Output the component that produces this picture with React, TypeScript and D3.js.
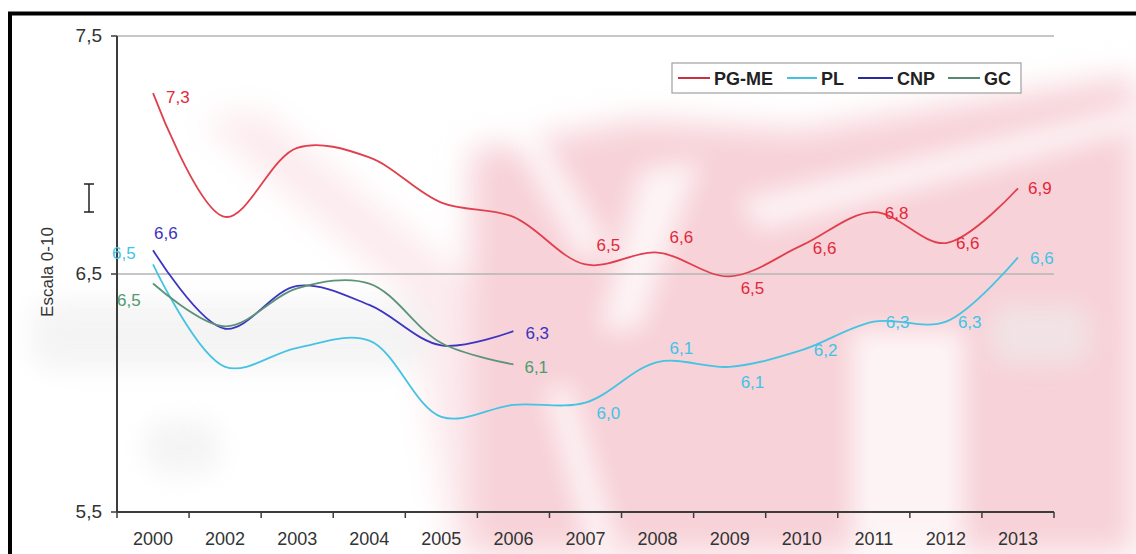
import React from "react";
import * as d3 from "d3";

const categories = ["2000", "2002", "2003", "2004", "2005", "2006", "2007", "2008", "2009", "2010", "2011", "2012", "2013"];
const pgme = [7.26, 6.74, 7.03, 6.99, 6.8, 6.74, 6.54, 6.59, 6.49, 6.62, 6.76, 6.63, 6.86];
const pl = [6.54, 6.11, 6.19, 6.22, 5.9, 5.95, 5.96, 6.13, 6.11, 6.18, 6.3, 6.3, 6.57];
const cnp = [6.6, 6.27, 6.45, 6.37, 6.2, 6.26, null, null, null, null, null, null, null];
const gc = [6.46, 6.28, 6.44, 6.46, 6.21, 6.12, null, null, null, null, null, null, null];
const yTicks = [5.5, 6.5, 7.5];
const gridValues = [6.5, 7.5];
const seriesNames = ["PG-ME", "PL", "CNP", "GC"];

// label placement: [index, dx, dy]
const labelPlacement: Record<string, [number, number, number][]> = {
  "PG-ME": [[0, 13, 10], [6, 11, -13], [7, 12, -10], [8, 11, 18], [9, 11, 9], [10, 11, 7], [11, 10, 6], [12, 10, 6]],
  PL: [[0, -41, -5], [6, 11, 16], [7, 12, -8], [8, 11, 21], [9, 12, 6], [10, 12, 6], [11, 12, 6], [12, 12, 7]],
  CNP: [[0, 1, -11], [5, 12, 8]],
  GC: [[0, -36, 22], [5, 11, 9]],
};

const styles: Record<string, { line: string; label: string; legend: string }> = {
  "PG-ME": { line: "#e0404e", label: "#e3283a", legend: "#c8323f" },
  PL: { line: "#45c3e3", label: "#3fc4e6", legend: "#46c0e2" },
  CNP: { line: "#3c34c2", label: "#3a33c0", legend: "#2a2a9c" },
  GC: { line: "#5c9478", label: "#4f9a6e", legend: "#558a70" },
};

const legendLayout: Record<string, number> = { "PG-ME": 678, PL: 787, CNP: 858, GC: 948 };
const legendLineLen: Record<string, number> = { "PG-ME": 32, PL: 30, CNP: 35, GC: 32 };

const FONT = "'Liberation Sans', Arial, sans-serif";

export default function App() {
  const left = 117, right = 1054, top = 36, bottom = 512;
  const x = d3.scaleBand().domain(categories).range([left, right]);
  const y = d3.scaleLinear().domain([5.5, 7.5]).range([bottom, top]);
  const cx = (c: string) => (x(c) as number) + x.bandwidth() / 2;

  const dataMap: Record<string, (number | null)[]> = { "PG-ME": pgme, PL: pl, CNP: cnp, GC: gc };

  const line = d3
    .line<[string, number | null]>()
    .defined((d) => d[1] != null)
    .x((d) => cx(d[0]))
    .y((d) => y(d[1] as number))
    .curve(d3.curveCatmullRom.alpha(0.5));

  const fmt = (v: number) => v.toFixed(1).replace(".", ",");

  const boundaries = [...categories.map((c) => x(c) as number), right];

  return (
    <svg width={1136} height={554} style={{ position: "absolute", left: 0, top: 0, background: "#fff" }}>
      <defs>
        <filter id="blurBig" x="-20%" y="-20%" width="140%" height="140%">
          <feGaussianBlur stdDeviation="16" />
        </filter>
        <filter id="blurSmall" x="-20%" y="-20%" width="140%" height="140%">
          <feGaussianBlur stdDeviation="12" />
        </filter>
      </defs>
      {/* watermark */}
      <g filter="url(#blurBig)">
        <polygon points="470,150 640,120 800,130 1136,75 1136,554 470,554" fill="#f7d2d8" />
        <polygon points="200,120 260,110 470,280 470,554 450,554 410,300" fill="#fcebee" />
      </g>
      <g filter="url(#blurSmall)" fill="#ffffff" opacity={0.75}>
        <rect x={852} y={330} width={112} height={240} />
        <polygon points="740,200 1136,105 1136,130 760,230" />
        <polygon points="490,100 520,95 610,250 580,260" />
        <polygon points="640,170 700,160 640,330 600,330" />
        <polygon points="545,390 570,385 620,554 590,554" />
      </g>
      <g filter="url(#blurSmall)" fill="#eeeeee" opacity={0.6}>
        <rect x={30} y={300} width={400} height={70} rx={25} />
        <rect x={990} y={305} width={100} height={60} rx={20} />
        <rect x={145} y={420} width={75} height={55} rx={20} />
      </g>

      {/* frame */}
      <rect x={10} y={13.5} width={1200} height={600} fill="none" stroke="#000" strokeWidth={4} />

      {/* gridlines */}
      {gridValues.map((v) => (
        <line key={v} x1={left} x2={right} y1={y(v)} y2={y(v)} stroke="#b4b4b4" strokeWidth={1.5} />
      ))}

      {/* axes */}
      <line x1={left} x2={left} y1={top} y2={bottom} stroke="#3c3c3c" strokeWidth={2} />
      {yTicks.map((v) => (
        <g key={v}>
          <line x1={left - 6} x2={left} y1={y(v)} y2={y(v)} stroke="#3c3c3c" strokeWidth={1.5} />
          <text x={102} y={y(v) + 6} textAnchor="end" fontFamily={FONT} fontSize={19} fill="#333">
            {fmt(v)}
          </text>
        </g>
      ))}
      <line x1={left} x2={right} y1={bottom} y2={bottom} stroke="#3c3c3c" strokeWidth={2} />
      {boundaries.map((b, i) => (
        <line key={i} x1={b} x2={b} y1={bottom} y2={bottom + 6} stroke="#3c3c3c" strokeWidth={1.5} />
      ))}
      {categories.map((c) => (
        <text key={c} x={cx(c)} y={545} textAnchor="middle" fontFamily={FONT} fontSize={18} fill="#333">
          {c}
        </text>
      ))}
      <text
        transform="translate(53,272) rotate(-90)"
        textAnchor="middle"
        fontFamily={FONT}
        fontSize={17}
        fill="#333"
      >
        Escala 0-10
      </text>

      {/* text cursor glyph */}
      <path d="M84,184 H94 M89,184 V212 M84,212 H94" stroke="#222" strokeWidth={1.5} fill="none" />

      {/* series lines */}
      {seriesNames.map((s) => (
        <path
          key={s}
          d={line(categories.map((c, i) => [c, dataMap[s][i]] as [string, number | null])) || ""}
          fill="none"
          stroke={styles[s].line}
          strokeWidth={1.8}
        />
      ))}

      {/* data labels */}
      {seriesNames.map((s) =>
        labelPlacement[s].map(([i, dx, dy]) => {
          const v = dataMap[s][i] as number;
          return (
            <text
              key={s + i}
              x={cx(categories[i]) + dx}
              y={y(v) + dy}
              fontFamily={FONT}
              fontSize={17}
              fill={styles[s].label}
            >
              {fmt(v)}
            </text>
          );
        })
      )}

      {/* legend */}
      <rect x={672} y={63} width={349} height={30} fill="#fff" stroke="#a0a0a0" strokeWidth={1.2} />
      {seriesNames.map((s) => {
        const lx = legendLayout[s];
        const len = legendLineLen[s];
        return (
          <g key={s}>
            <line x1={lx} x2={lx + len} y1={78} y2={78} stroke={styles[s].legend} strokeWidth={2} />
            <text x={lx + len + 4} y={84.5} fontFamily={FONT} fontSize={18} fontWeight="bold" fill="#222">
              {s}
            </text>
          </g>
        );
      })}
    </svg>
  );
}
